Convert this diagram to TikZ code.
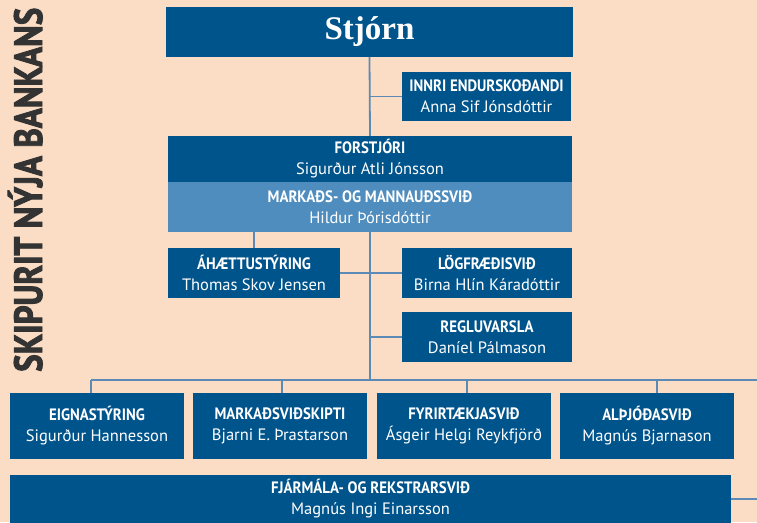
\documentclass[tikz,border=0pt]{standalone}
\usepackage{fontspec}
\setmainfont{PT Sans}
\newfontfamily\serifbold{Liberation Serif}
\newfontfamily\hdfont[FakeStretch=0.9]{PT Sans Bold}
\newfontfamily\ttlfont[FakeBold=2.5]{PT Sans Bold}
\definecolor{bg}{RGB}{251,220,196}
\definecolor{dblue}{RGB}{0,84,140}
\definecolor{lblue}{RGB}{78,141,190}
\definecolor{lineblue}{RGB}{90,138,181}
\definecolor{titlegrey}{RGB}{51,51,51}
\tikzset{
  orgbox/.style={fill=dblue, text=white, inner sep=0pt, align=center,
    font=\fontsize{16.5}{21}\selectfont},
  conn/.style={draw=lineblue, line width=1.8pt},
}
\newcommand{\hd}[1]{{\hdfont #1}}
\begin{document}
\begin{tikzpicture}[x=1pt,y=-1pt]
\useasboundingbox (0,0) rectangle (757,522);
\fill[bg] (0,0) rectangle (757,522);
\coordinate (busC) at (370,380);
\coordinate (busL) at (91,380);
\coordinate (busR) at (757,380);
\coordinate (t2) at (282,380);
\coordinate (t3) at (467,380);
\coordinate (t4) at (657,380);
\coordinate (fR) at (757,499);
% nodes
\node[orgbox, minimum width=407pt, minimum height=50pt, font=\serifbold\bfseries\fontsize{33}{36}\selectfont] (stjorn) at (369.5,32) {Stjórn};
\node[orgbox, minimum width=169pt, minimum height=49pt] (innri) at (486.5,96.5) {\hd{INNRI ENDURSKOÐANDI}\\Anna Sif Jónsdóttir};
\node[orgbox, minimum width=404pt, minimum height=46pt] (forstjori) at (370,159) {\hd{FORSTJÓRI}\\Sigurður Atli Jónsson};
\node[orgbox, fill=lblue, minimum width=404pt, minimum height=50pt] (markads) at (370,207) {\hd{MARKAÐS- OG MANNAUÐSSVIÐ}\\Hildur Þórisdóttir};
\node[orgbox, minimum width=172pt, minimum height=50pt] (ahaettu) at (254,273) {\hd{ÁHÆTTUSTÝRING}\\Thomas Skov Jensen};
\node[orgbox, minimum width=170pt, minimum height=50pt] (log) at (487,273) {\hd{LÖGFRÆÐISVIÐ}\\Birna Hlín Káradóttir};
\node[orgbox, minimum width=170pt, minimum height=50pt] (regl) at (487,337) {\hd{REGLUVARSLA}\\Daníel Pálmason};
\node[orgbox, minimum width=174pt, minimum height=66pt] (eign) at (97,426) {\hd{EIGNASTÝRING}\\Sigurður Hannesson};
\node[orgbox, minimum width=174pt, minimum height=66pt] (markv) at (280,426) {\hd{MARKAÐSVIÐSKIPTI}\\Bjarni E. Þrastarson};
\node[orgbox, minimum width=174pt, minimum height=66pt] (fyr) at (464,426) {\hd{FYRIRTÆKJASVIÐ}\\Ásgeir Helgi Reykfjörð};
\node[orgbox, minimum width=174pt, minimum height=66pt] (alth) at (647,426) {\hd{ALÞJÓÐASVIÐ}\\Magnús Bjarnason};
\node[orgbox, minimum width=721pt, minimum height=48pt] (fjarm) at (370.5,499) {\hd{FJÁRMÁLA- OG REKSTRARSVIÐ}\\Magnús Ingi Einarsson};
% connectors
\draw[conn] (stjorn.south) -- (forstjori.north);
\draw[conn] (innri.west) -- (innri.west -| stjorn.south);
\draw[conn] (ahaettu.north) -- (ahaettu.north |- markads.south);
\draw[conn] (markads.south -| busC) -- (busC);
\draw[conn] (ahaettu.east) -- (log.west);
\draw[conn] (regl.west) -- (regl.west -| busC);
\draw[conn] (busL) -- (busR);
\draw[conn] (busL) -- (busL |- eign.north);
\draw[conn] (t2) -- (t2 |- markv.north);
\draw[conn] (t3) -- (t3 |- fyr.north);
\draw[conn] (t4) -- (t4 |- alth.north);
\draw[conn] (fjarm.east) -- (fR);
% title
\node[rotate=90, anchor=base west, inner sep=0pt, text=titlegrey] (title) at (42,372)
  {\resizebox{364pt}{28pt}{\smash{\ttlfont SKIPURIT NÝJA BANKANS}\vphantom{S}}};
\end{tikzpicture}
\end{document}
